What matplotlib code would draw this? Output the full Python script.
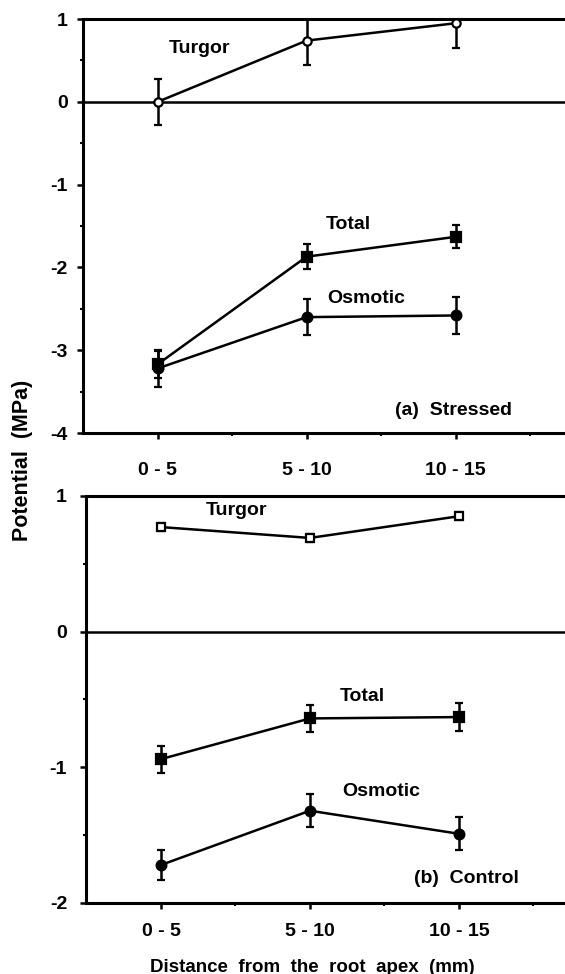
import matplotlib.pyplot as plt
import numpy as np

plt.rcParams['font.family'] = ['Liberation Sans', 'DejaVu Sans']
plt.rcParams['font.weight'] = 'bold'

zones = ["0 - 5", "5 - 10", "10 - 15"]

# (a) stressed roots
st_turgor = [0.0, 0.74, 0.95]
st_turgor_err = [0.28, 0.29, 0.30]
st_total = [-3.17, -1.87, -1.63]
st_total_err = [0.16, 0.15, 0.14]
st_osmotic = [-3.22, -2.60, -2.58]
st_osmotic_err = [0.22, 0.22, 0.22]

# (b) control roots
ct_turgor = [0.77, 0.69, 0.85]
ct_turgor_err = [0.03, 0.03, 0.03]
ct_total = [-0.94, -0.64, -0.63]
ct_total_err = [0.10, 0.10, 0.105]
ct_osmotic = [-1.72, -1.32, -1.49]
ct_osmotic_err = [0.11, 0.12, 0.12]

x = np.arange(1, len(zones) + 1)

fig = plt.figure(figsize=(5.65, 9.74), dpi=100)
ax1 = fig.add_axes([0.147, 0.5554, 0.923, 0.425])
ax2 = fig.add_axes([0.153, 0.0729, 0.923, 0.418])


def draw_series(ax, y, err, marker, mfc, ms):
	ax.errorbar(x, y, yerr=err, color='black', lw=1.8, elinewidth=1.8,
		capsize=3.2, capthick=1.8, marker=marker, ms=ms, mfc=mfc,
		mec='black', mew=1.6, zorder=3)


def style_axes(ax, ylim, ypad, xpad):
	ax.set_xlim(0.5, 4.0)
	ax.set_ylim(*ylim)
	ax.axhline(0, color='black', lw=1.8, zorder=2)
	for side in ['left', 'bottom', 'top']:
		ax.spines[side].set_linewidth(2.2)
	ax.spines['right'].set_visible(False)
	ax.set_xticks(x)
	ax.set_xticklabels(zones)
	ax.set_xticks([1.5, 2.5, 3.5], minor=True)
	ax.set_yticks(np.arange(ylim[0], ylim[1] + 1))
	ax.set_yticks(np.arange(ylim[0] + 0.5, ylim[1], 1.0), minor=True)
	ax.tick_params(axis='x', which='major', direction='out', length=4, width=1.8,
		pad=xpad, labelsize=14)
	ax.tick_params(axis='y', which='major', direction='out', length=4, width=1.8,
		pad=ypad, labelsize=14)
	ax.tick_params(which='minor', direction='out', length=2.5, width=1.5)
	ax.tick_params(top=False, right=False, which='both')
	ax.yaxis.set_major_formatter(plt.FuncFormatter(lambda v, loc: "{:d}".format(int(round(v)))))


draw_series(ax1, st_turgor, st_turgor_err, 'o', 'white', 6)
draw_series(ax1, st_total, st_total_err, 's', 'black', 6.5)
draw_series(ax1, st_osmotic, st_osmotic_err, 'o', 'black', 7)
style_axes(ax1, (-4, 1), 7, 17)
ax1.text(1.28, 0.65, "Turgor", ha='center', va='center', fontsize=14)
ax1.text(2.28, -1.48, "Total", ha='center', va='center', fontsize=14)
ax1.text(2.40, -2.38, "Osmotic", ha='center', va='center', fontsize=14)
ax1.text(3.38, -3.73, "(a)  Stressed", ha='right', va='center', fontsize=14)

draw_series(ax2, ct_turgor, ct_turgor_err, 's', 'white', 5.5)
draw_series(ax2, ct_total, ct_total_err, 's', 'black', 6.5)
draw_series(ax2, ct_osmotic, ct_osmotic_err, 'o', 'black', 7)
style_axes(ax2, (-2, 1), 10, 10.5)
ax2.text(1.51, 0.89, "Turgor", ha='center', va='center', fontsize=14)
ax2.text(2.35, -0.48, "Total", ha='center', va='center', fontsize=14)
ax2.text(2.48, -1.18, "Osmotic", ha='center', va='center', fontsize=14)
ax2.text(3.40, -1.82, "(b)  Control", ha='right', va='center', fontsize=14)

fig.text(0.04, 0.527, "Potential  (MPa)", rotation=90, ha='center', va='center', fontsize=15.5)
fig.text(0.552, 0.007, "Distance  from  the  root  apex  (mm)", ha='center', va='center', fontsize=13.5)

plt.savefig('out.png', dpi=100)
